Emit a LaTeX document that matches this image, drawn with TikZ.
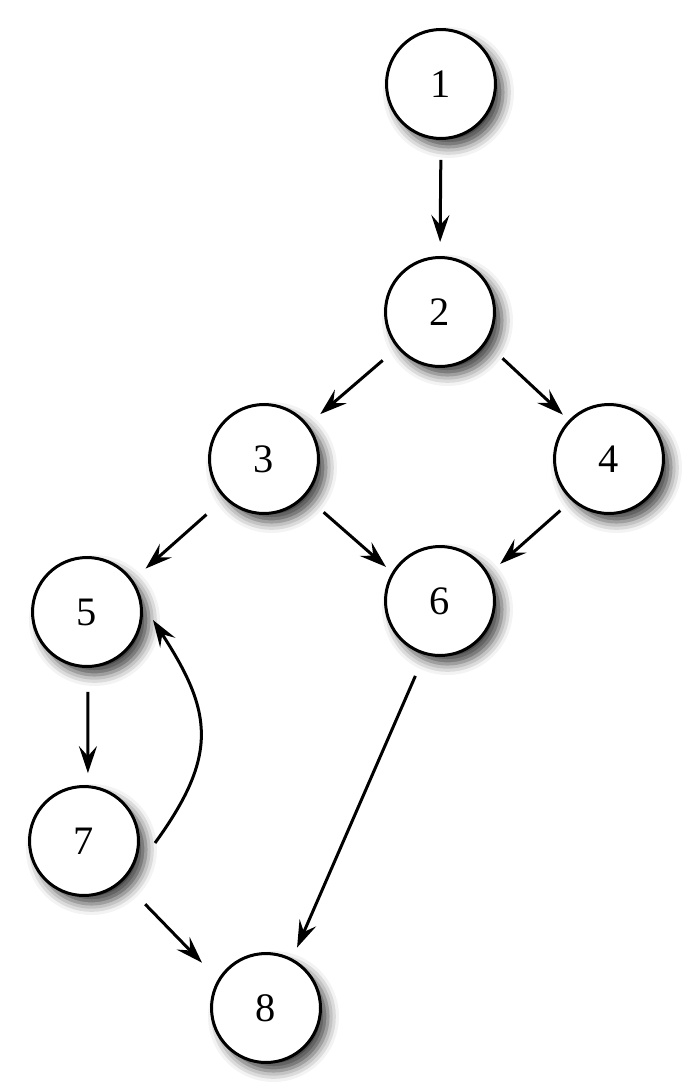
\documentclass[tikz,border=0pt]{standalone}
\usepackage{fontspec}
\setmainfont{Liberation Serif}
\usetikzlibrary{arrows.meta,shadows.blur}

\begin{document}
\begin{tikzpicture}[
  x=0.02cm,y=0.02cm,
  state/.style={circle,draw=black,line width=0.06cm,fill=white,minimum size=2.18cm,inner sep=0pt,
    font=\fontsize{23}{28}\selectfont,
    blur shadow={shadow xshift=0.15cm,shadow yshift=-0.17cm,shadow blur radius=0.22cm,shadow opacity=75}},
  ar/.style={-{Stealth[length=0.54cm,width=0.36cm,inset=0.2cm]},line width=0.06cm}
]
\useasboundingbox (0,0) rectangle (694,-1092);
\node[state] (n1) at (441,-84) {1};
\node[state] (n2) at (440,-312) {2};
\node[state] (n3) at (264,-459) {3};
\node[state] (n4) at (609,-459) {4};
\node[state] (n5) at (87,-612) {5};
\node[state] (n6) at (440,-601) {6};
\node[state] (n7) at (84,-841) {7};
\node[state] (n8) at (266,-1008) {8};
\draw[ar,shorten <=0.4cm,shorten >=0.28cm] (n1.-90) -- (n2.90);
\draw[ar,shorten <=0.38cm,shorten >=0.32cm] (n2.220) -- (n3.38);
\draw[ar,shorten <=0.44cm,shorten >=0.16cm] (n2.-34) -- (n4.136);
\draw[ar,shorten <=0.48cm,shorten >=0.34cm] (n3.225) -- (n5.35);
\draw[ar,shorten <=0.48cm,shorten >=0.16cm] (n3.-42) -- (n6.149);
\draw[ar,shorten <=0.3cm,shorten >=0.3cm] (n4.228) -- (n6.29);
\draw[ar,shorten <=0.48cm,shorten >=0.24cm] (n5.-89) -- (n7.86);
\draw[ar,shorten <=0.46cm,shorten >=0.24cm] (n6.254) -- (n8.62);
\draw[ar,shorten <=0.64cm,shorten >=0.46cm] (n7.-46) -- (n8.149);
% loop back from 7 to 5
\draw[ar] ([shift={(15,-2)}]n7.east) to[out=54,in=-57,looseness=1.25] ([shift={(10,-8)}]n5.east);
\end{tikzpicture}
\end{document}
